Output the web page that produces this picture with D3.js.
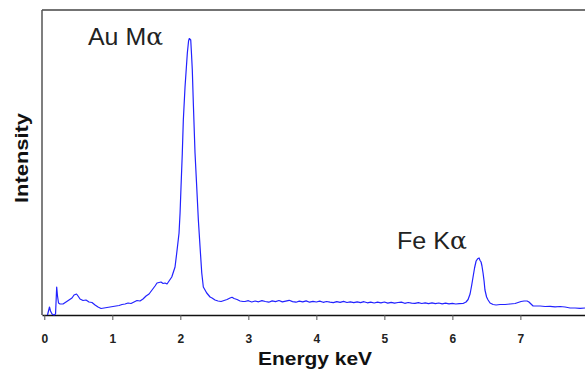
<!DOCTYPE html>
<html>
<head>
<meta charset="utf-8">
<script src="https://cdn.jsdelivr.net/npm/d3@7"></script>
<style>
  html, body { margin: 0; padding: 0; background: #fff; }
  svg { display: block; }
</style>
</head>
<body>
<svg id="chart" width="585" height="369"></svg>
<script>
// ---- data (energy in keV, intensity in arbitrary counts) ----
const energy = [
  0.047, 0.076, 0.091, 0.113, 0.143, 0.165, 0.182, 0.194, 0.209, 0.231,
  0.275, 0.319, 0.363, 0.407, 0.437, 0.474, 0.496, 0.525, 0.569, 0.613,
  0.657, 0.701, 0.746, 0.790, 0.834, 0.878, 0.922, 0.966, 1.010, 1.054,
  1.099, 1.143, 1.187, 1.231, 1.275, 1.319, 1.363, 1.407, 1.451, 1.496,
  1.540, 1.584, 1.628, 1.657, 1.687, 1.716, 1.746, 1.775, 1.804, 1.824,
  1.874, 1.922, 1.947, 1.981, 1.996, 2.010, 2.029, 2.044, 2.069, 2.103,
  2.121, 2.132, 2.153, 2.165, 2.176, 2.191, 2.216, 2.241, 2.265, 2.290,
  2.315, 2.338, 2.388, 2.437, 2.466, 2.510, 2.554, 2.599, 2.643, 2.687,
  2.731, 2.760, 2.790, 2.834, 2.878, 2.922,
  2.95, 3.00, 3.05, 3.10, 3.15, 3.20, 3.25, 3.30, 3.35, 3.40,
  3.45, 3.50, 3.55, 3.60, 3.65, 3.70, 3.75, 3.80, 3.85, 3.90,
  3.95, 4.00, 4.05, 4.10, 4.15, 4.20, 4.25, 4.30, 4.35, 4.40,
  4.45, 4.50, 4.55, 4.60, 4.65, 4.70, 4.75, 4.80, 4.85, 4.90,
  4.95, 5.00, 5.05, 5.10, 5.15, 5.20, 5.25, 5.30, 5.35, 5.40,
  5.45, 5.50, 5.55, 5.60, 5.65, 5.70, 5.75, 5.80, 5.85, 5.90,
  5.95, 6.00, 6.05, 6.10,
  6.157, 6.201, 6.231, 6.260, 6.282, 6.304, 6.326, 6.349, 6.371, 6.393,
  6.407, 6.422, 6.435, 6.451, 6.466, 6.479, 6.503, 6.525, 6.554, 6.599,
  6.643, 6.701, 6.775, 6.849, 6.922, 6.966, 7.010, 7.054, 7.099, 7.126,
  7.156, 7.187, 7.231, 7.290, 7.363, 7.437, 7.510, 7.584, 7.657, 7.731,
  7.804, 7.878, 7.951
];
const counts = [
  0, 80, 40, 10, 0, 10, 280, 190, 120, 110,
  110, 130, 150, 170, 200, 210, 190, 160, 145, 150,
  130, 125, 100, 80, 65, 70, 75, 80, 85, 90,
  95, 105, 110, 120, 115, 130, 145, 140, 160, 190,
  210, 250, 290, 320, 325, 330, 315, 320, 310, 330,
  380, 480, 620, 820, 1020, 1280, 1620, 1950, 2280, 2620,
  2740, 2765, 2750, 2600, 2450, 2120, 1620, 1280, 950, 680,
  420, 280, 220, 180, 170, 150, 140, 135, 145, 155,
  170, 177, 165, 155, 140, 135,
  135, 143, 130, 140, 132, 144, 135, 128, 141, 134,
  145, 131, 139, 147, 134, 128, 139, 131, 141, 128,
  136, 130, 139, 127, 135, 129, 124, 134, 126, 136,
  125, 132, 123, 131, 124, 133, 122, 129, 120, 128,
  121, 130, 119, 127, 118, 125, 129, 117, 125, 119,
  116, 124, 115, 122, 114, 121, 113, 120, 112, 118,
  111, 117, 110, 114,
  115, 130, 155, 210, 290, 380, 470, 540, 562, 570,
  545, 530, 490, 420, 340, 250, 180, 150, 120, 105,
  100, 105, 105, 110, 115, 125, 135, 140, 140, 130,
  110, 90, 90, 90, 85, 87, 82, 85, 80, 70,
  70, 67, 70
];
const xTicks = [0, 1, 2, 3, 4, 5, 6, 7];
const peakNames = ["Au M", "Fe K"];
const xTitle = "Energy keV";
const yTitle = "Intensity";

// ---- layout ----
const svg = d3.select("#chart");
const mLeft = 42, mRight = 585, mTop = 10, mBottom = 315;

const x = d3.scaleLinear().domain([-0.034, 7.95]).range([mLeft, mRight]);
const y = d3.scaleLinear().domain([0, 3050]).range([mBottom, mTop]);

const data = energy.map((e, i) => [e, counts[i]]);

// frame
svg.append("line").attr("x1", mLeft).attr("x2", mRight).attr("y1", mTop).attr("y2", mTop)
  .attr("stroke", "#444").attr("stroke-width", 1.5);
svg.append("line").attr("x1", mLeft).attr("x2", mLeft).attr("y1", mTop).attr("y2", mBottom)
  .attr("stroke", "#555").attr("stroke-width", 1.5);

// x axis
const xAxis = d3.axisBottom(x).tickValues(xTicks).tickFormat(d3.format("d"))
  .tickSizeInner(5).tickSizeOuter(0).tickPadding(14);
const gx = svg.append("g").attr("transform", `translate(0,${mBottom})`).call(xAxis);
gx.select(".domain").attr("stroke", "#111").attr("stroke-width", 1.3);
gx.selectAll(".tick line").attr("stroke", "#555").attr("stroke-width", 1);
gx.selectAll(".tick text").attr("font-family", "Arial, 'Liberation Sans', sans-serif")
  .attr("font-size", 12).attr("font-weight", "bold").attr("fill", "#222");

// spectrum line
const line = d3.line().x(d => x(d[0])).y(d => y(d[1]));
svg.append("path").datum(data).attr("d", line)
  .attr("fill", "none").attr("stroke", "#2222ff").attr("stroke-width", 1.2)
  .attr("stroke-linejoin", "round");

// axis titles
svg.append("text").text(xTitle)
  .attr("x", 315).attr("y", 365).attr("text-anchor", "middle")
  .attr("font-family", "Arial, 'Liberation Sans', sans-serif")
  .attr("font-size", 19).attr("font-weight", "bold").attr("fill", "#111")
  .attr("textLength", 114).attr("lengthAdjust", "spacingAndGlyphs");

svg.append("text").text(yTitle)
  .attr("transform", `translate(28,158) rotate(-90)`).attr("text-anchor", "middle")
  .attr("font-family", "Arial, 'Liberation Sans', sans-serif")
  .attr("font-size", 18).attr("font-weight", "bold").attr("fill", "#111")
  .attr("textLength", 90).attr("lengthAdjust", "spacingAndGlyphs");

// peak labels
const labelPos = [[88, 45, 75], [397, 249, 70]];
peakNames.forEach((name, i) => {
  const t = svg.append("text")
    .attr("x", labelPos[i][0]).attr("y", labelPos[i][1])
    .attr("font-family", "Arial, 'Liberation Sans', sans-serif")
    .attr("font-size", 24).attr("fill", "#222")
    .attr("textLength", labelPos[i][2]).attr("lengthAdjust", "spacingAndGlyphs");
  t.append("tspan").text(name);
  t.append("tspan").attr("font-family", "'DejaVu Serif', serif").text("α");
});
</script>
</body>
</html>
